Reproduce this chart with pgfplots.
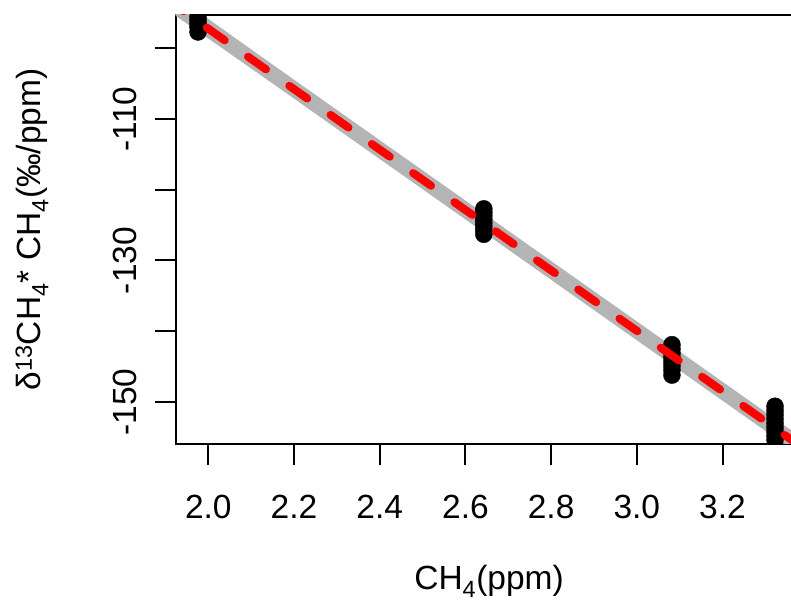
\documentclass[border=0pt]{standalone}
\usepackage{pgfplots}
\pgfplotsset{compat=1.18}
\usepackage{fontspec}
\setmainfont{Liberation Sans}
\definecolor{bandgray}{RGB}{180,180,180}
\newcommand{\bigf}{\fontsize{33.5}{40}\selectfont}
\begin{document}
\begin{tikzpicture}
\useasboundingbox (-175.7pt,-157pt) rectangle (615.3pt,444pt);
\begin{axis}[
 scale only axis, width=626.3pt, height=429pt,
 xmin=1.9239, xmax=3.3855, ymin=-155.94, ymax=-95.30,
 axis line style={line width=2.2pt},
 tick align=outside, tick style={line width=2pt, black}, major tick length=21pt,
 xtick={2.0,2.2,2.4,2.6,2.8,3.0,3.2},
 xticklabels={2.0,2.2,2.4,2.6,2.8,3.0,3.2},
 ytick={-150,-140,-130,-120,-110,-100},
 yticklabels={-150,,-130,,-110,},
 xtick pos=bottom, ytick pos=left,
 tick label style={font=\bigf},
 xticklabel style={anchor=north, inner sep=0pt},
 yticklabel style={rotate=90, anchor=base, inner sep=0pt},
 xticklabel shift=30pt,
 yticklabel shift=17.7pt,
 every axis x label/.style={at={(axis description cs:0.5003,-0.3403)}, anchor=base, font=\bigf},
 every axis y label/.style={at={(axis description cs:-0.2152,0.5)}, anchor=base, rotate=90, font=\bigf},
 xlabel={CH\textsubscript{4}(ppm)},
 ylabel={δ\textsuperscript{13}CH\textsubscript{4}* CH\textsubscript{4}(‰/ppm)},
 clip marker paths=true,
]
\addplot[bandgray, line width=5pt, forget plot] coordinates {(1.90,-92.07) (3.40,-156.12)};
\addplot[bandgray, line width=5pt, forget plot] coordinates {(1.90,-93.87) (3.40,-157.92)};
\addplot[bandgray, line width=5pt, forget plot] coordinates {(1.90,-91.95) (3.40,-157.05)};
\addplot[bandgray, line width=5pt, forget plot] coordinates {(1.90,-93.99) (3.40,-156.99)};
\addplot[bandgray, line width=5pt, forget plot] coordinates {(1.90,-93.49) (3.40,-156.49)};
\addplot[bandgray, line width=5pt, forget plot] coordinates {(1.90,-92.45) (3.40,-157.55)};
\addplot[bandgray, line width=5pt, forget plot] coordinates {(1.90,-92.97) (3.40,-156.42)};
\addplot[bandgray, line width=5pt, forget plot] coordinates {(1.90,-92.98) (3.40,-157.63)};
\addplot[only marks, mark=*, mark size=8.5pt, black] coordinates {
 (1.976,-94.0) (1.976,-94.5) (1.976,-95.0) (1.976,-95.5) (1.976,-96.0) (1.976,-96.5) (1.976,-97.0) (1.976,-97.7)
 (2.643,-122.7) (2.643,-123.2) (2.643,-123.7) (2.643,-124.2) (2.643,-124.7) (2.643,-125.2) (2.643,-125.7) (2.643,-126.3)
 (3.082,-141.9) (3.082,-142.5) (3.082,-143.1) (3.082,-143.7) (3.082,-144.3) (3.082,-144.9) (3.082,-145.5) (3.082,-146.2)
 (3.3225,-150.6) (3.3225,-151.2) (3.3225,-151.8) (3.3225,-152.4) (3.3225,-153.0) (3.3225,-153.6) (3.3225,-154.2) (3.3225,-154.8) (3.3225,-155.4)
};
\addplot[red, line width=8pt, dash pattern=on 22pt off 28.5pt, line cap=round] coordinates {(1.90,-92.97) (3.40,-157.02)};
\end{axis}
\end{tikzpicture}
\end{document}
